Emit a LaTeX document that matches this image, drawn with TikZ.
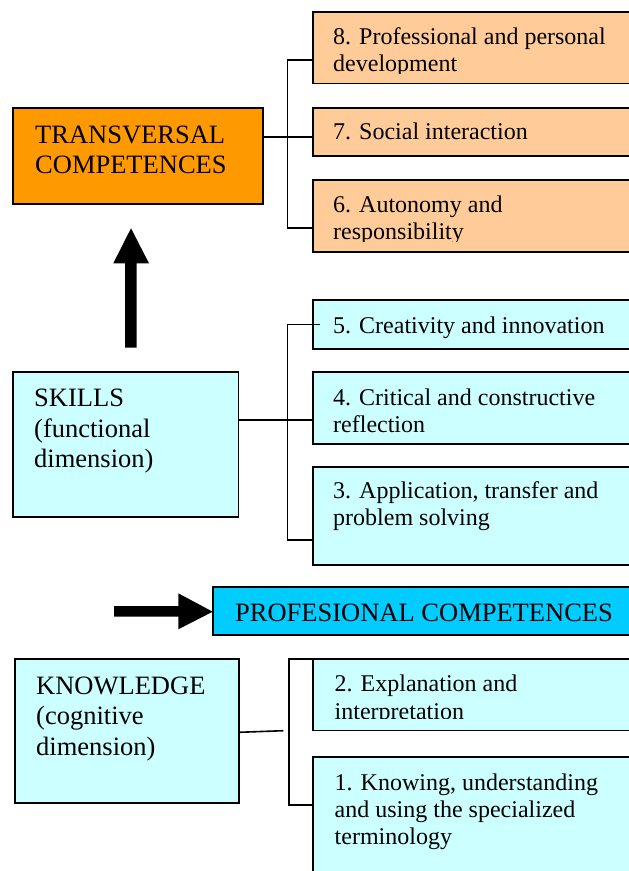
\documentclass[tikz,border=0pt]{standalone}
\usepackage{fontspec}
\setmainfont{Liberation Serif}
\usetikzlibrary{calc}
\definecolor{orangebox}{HTML}{FF9900}
\definecolor{peach}{HTML}{FFCC99}
\definecolor{paleaqua}{HTML}{CCFFFF}
\definecolor{brightaqua}{HTML}{00CCFF}
\begin{document}
\begin{tikzpicture}[x=1pt,y=-1pt,
  box/.style={draw=black, line width=1.9pt, anchor=north west, inner sep=0pt, outer sep=0pt},
  conn/.style={draw=black, line width=1.6pt},
  % text nodes are anchored at the baseline of their last line
  bigtext/.style={anchor=base west, align=left, inner sep=0pt, font=\fontsize{26.5}{30.5}\selectfont},
  smalltext/.style={anchor=base west, align=left, inner sep=0pt, font=\fontsize{24}{27.4}\selectfont}
]
\clip (0,0) rectangle (629,871);
\fill[white] (0,0) rectangle (629,871);

% ---------- transversal competences ----------
\node[box, fill=peach, minimum width=330pt, minimum height=71.5pt] (b8) at (313,12) {};
\node[box, fill=peach, minimum width=330pt, minimum height=48pt] (b7) at (313,108) {};
\node[box, fill=peach, minimum width=330pt, minimum height=72pt] (b6) at (313,180) {};
\node[box, fill=orangebox, minimum width=250pt, minimum height=96pt] (bT) at (13,108) {};

\node[bigtext] (tT) at ($(bT.north west)+(22,65.8)$) {TRANSVERSAL\\COMPETENCES};
\begin{scope}
  \clip (b8.north west) rectangle ($(b8.south east)+(0,-10.5)$);
  \node[smalltext] (t8) at ($(b8.north west)+(20,59.4)$) {8. Professional and personal\\development};
\end{scope}
\node[smalltext] (t7) at ($(b7.north west)+(20,31.3)$) {7. Social interaction};
\begin{scope}
  \clip (b6.north west) rectangle ($(b6.south east)+(0,-10.5)$);
  \node[smalltext] (t6) at ($(b6.north west)+(20,59.7)$) {6. Autonomy and\\responsibility};
\end{scope}

\coordinate (jT) at ($(bT.north east)+(0,28.7)$);
\draw[conn] (jT) -- (jT -| b7.west);
\coordinate (k8) at ($(b8.north west)+(0,48)$);
\coordinate (k6) at ($(b6.north west)+(0,48)$);
\draw[conn] (k8) -- ++(-25.5,0) |- (k6);

% ---------- skills ----------
\node[box, fill=paleaqua, minimum width=330pt, minimum height=48.7pt] (b5) at (313,300) {};
\node[box, fill=paleaqua, minimum width=330pt, minimum height=72pt] (b4) at (313,372) {};
\node[box, fill=paleaqua, minimum width=330pt, minimum height=98.3pt] (b3) at (313,466.7) {};
\node[box, fill=paleaqua, minimum width=225.5pt, minimum height=144.7pt] (bS) at (13,372) {};

\node[bigtext] (tS) at ($(bS.north west)+(21,95.7)$) {SKILLS\\(functional\\dimension)};
\node[smalltext] (t5) at ($(b5.north west)+(20,33.3)$) {5. Creativity and innovation};
\node[smalltext] (t4) at ($(b4.north west)+(20,60.4)$) {4. Critical and constructive\\reflection};
\node[smalltext] (t3) at ($(b3.north west)+(20,59)$) {3. Application, transfer and\\problem solving};

\coordinate (jS) at ($(bS.north east)+(0,48)$);
\draw[conn] (jS) -- (jS -| b4.west);
\coordinate (k5) at ($(b5.west)+(7,0)$);
\coordinate (k3) at ($(b3.north west)+(0,73.3)$);
\draw[conn] (k5) -- ++(-32.5,0) |- (k3);

% arrow from skills up to transversal competences
\fill[black] (125,347.7) -- (125,263.3) -- (113.3,263.3) -- (131,228.3)
  -- (149,263.3) -- (136.7,263.3) -- (136.7,347.7) -- cycle;

% ---------- professional competences ----------
\node[box, fill=brightaqua, minimum width=430pt, minimum height=48.6pt] (bP) at (213.3,586.7) {};
\node[bigtext] (tP) at ($(bP.north west)+(21.7,35)$) {PROFESIONAL COMPETENCES};
\coordinate (aP) at (bP.west);
\fill[black] ($(aP)+(-99.3,-5)$) -- ($(aP)+(-35,-5)$) -- ($(aP)+(-35,-17.7)$) -- ($(aP)+(-0.6,0.7)$)
  -- ($(aP)+(-35,18.3)$) -- ($(aP)+(-35,5.7)$) -- ($(aP)+(-99.3,5.7)$) -- cycle;

% ---------- knowledge ----------
\node[box, fill=paleaqua, minimum width=330pt, minimum height=71.5pt] (b2) at (313.3,659) {};
\node[box, fill=paleaqua, minimum width=330pt, minimum height=150pt] (b1) at (313.3,756.7) {};
\node[box, fill=paleaqua, minimum width=224pt, minimum height=144.3pt] (bK) at (15,659) {};

\node[bigtext] (tK) at ($(bK.north west)+(21,96)$) {KNOWLEDGE\\(cognitive\\dimension)};
\begin{scope}
  \clip (b2.north west) rectangle ($(b2.south east)+(0,-12)$);
  \node[smalltext] (t2) at ($(b2.north west)+(21.2,60.1)$) {2. Explanation and\\interpretation};
\end{scope}
\node[smalltext] (t1) at ($(b1.north west)+(21.2,88.1)$) {1. Knowing, understanding\\and using the specialized\\terminology};

\coordinate (jK) at ($(bK.north east)+(0,73.3)$);
\coordinate (jKend) at ($(jK)+(44.3,-1.6)$);
\draw[conn] (jK) -- (jKend);
\coordinate (k1) at ($(b1.north west)+(0,48.3)$);
\draw[conn] (b2.north west) -- ++(-24.3,0) |- (k1);
\end{tikzpicture}
\end{document}
